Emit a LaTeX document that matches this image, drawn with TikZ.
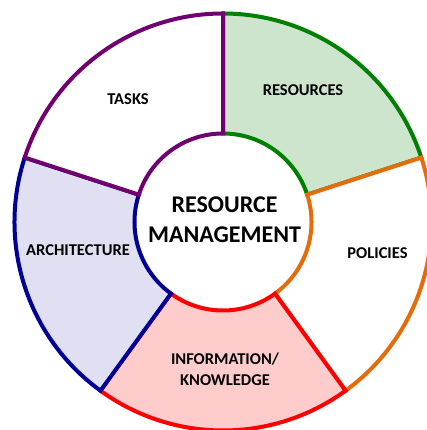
\documentclass[tikz,border=0pt]{standalone}
\usepackage{fontspec}
\setmainfont{Carlito}
\definecolor{cpurple}{HTML}{700070}
\definecolor{cgreen}{HTML}{008000}
\definecolor{cgreenfill}{HTML}{CDE5CD}
\definecolor{corange}{HTML}{E46C0A}
\definecolor{cred}{HTML}{FF0000}
\definecolor{credfill}{HTML}{FFCCCC}
\definecolor{cnavy}{HTML}{000096}
\definecolor{cnavyfill}{HTML}{E0E0F2}
\begin{document}
\begin{tikzpicture}[x=1pt,y=1pt,
  sector/.style={line width=4pt,line join=miter},
  lbl/.style={font=\bfseries\fontsize{16.5}{20.7}\selectfont,inner sep=0pt,anchor=base,align=center},
  ctr/.style={font=\bfseries\fontsize{24}{30}\selectfont,inner sep=0pt,anchor=base}]
\useasboundingbox (0,0) rectangle (426,430);
\coordinate (c) at (223,208);
\def\Ro{208.5}
\def\Ri{88.5}
% RESOURCES
\draw[sector,draw=cgreen,fill=cgreenfill] ([shift={(18:\Ro)}]c) arc[start angle=18,end angle=90,radius=\Ro] -- ([shift={(90:\Ri)}]c) arc[start angle=90,end angle=18,radius=\Ri] -- cycle;
% POLICIES
\draw[sector,draw=corange,fill=white] ([shift={(-54:\Ro)}]c) arc[start angle=-54,end angle=18,radius=\Ro] -- ([shift={(18:\Ri)}]c) arc[start angle=18,end angle=-54,radius=\Ri] -- cycle;
% INFORMATION
\draw[sector,draw=cred,fill=credfill] ([shift={(-126:\Ro)}]c) arc[start angle=-126,end angle=-54,radius=\Ro] -- ([shift={(-54:\Ri)}]c) arc[start angle=-54,end angle=-126,radius=\Ri] -- cycle;
% ARCHITECTURE
\draw[sector,draw=cnavy,fill=cnavyfill] ([shift={(162:\Ro)}]c) arc[start angle=162,end angle=234,radius=\Ro] -- ([shift={(234:\Ri)}]c) arc[start angle=234,end angle=162,radius=\Ri] -- cycle;
% TASKS
\draw[sector,draw=cpurple,fill=white] ([shift={(90:\Ro)}]c) arc[start angle=90,end angle=162,radius=\Ro] -- ([shift={(162:\Ri)}]c) arc[start angle=162,end angle=90,radius=\Ri] -- cycle;
% labels
\node[lbl] (tasks) at (128,325.5) {TASKS};
\node[lbl] (resources) at (303,334.3) {RESOURCES};
\node[lbl] (policies) at (377.5,171.7) {POLICIES};
\node[lbl] (arch) at (78,174.3) {ARCHITECTURE};
\node[lbl] (info) at (225,65) {INFORMATION/};
\node[lbl] (know) at (225,44.3) {KNOWLEDGE};
\node[ctr] (rm1) at (224.5,217) {RESOURCE};
\node[ctr] (rm2) at (224.5,187) {MANAGEMENT};
\end{tikzpicture}
\end{document}
